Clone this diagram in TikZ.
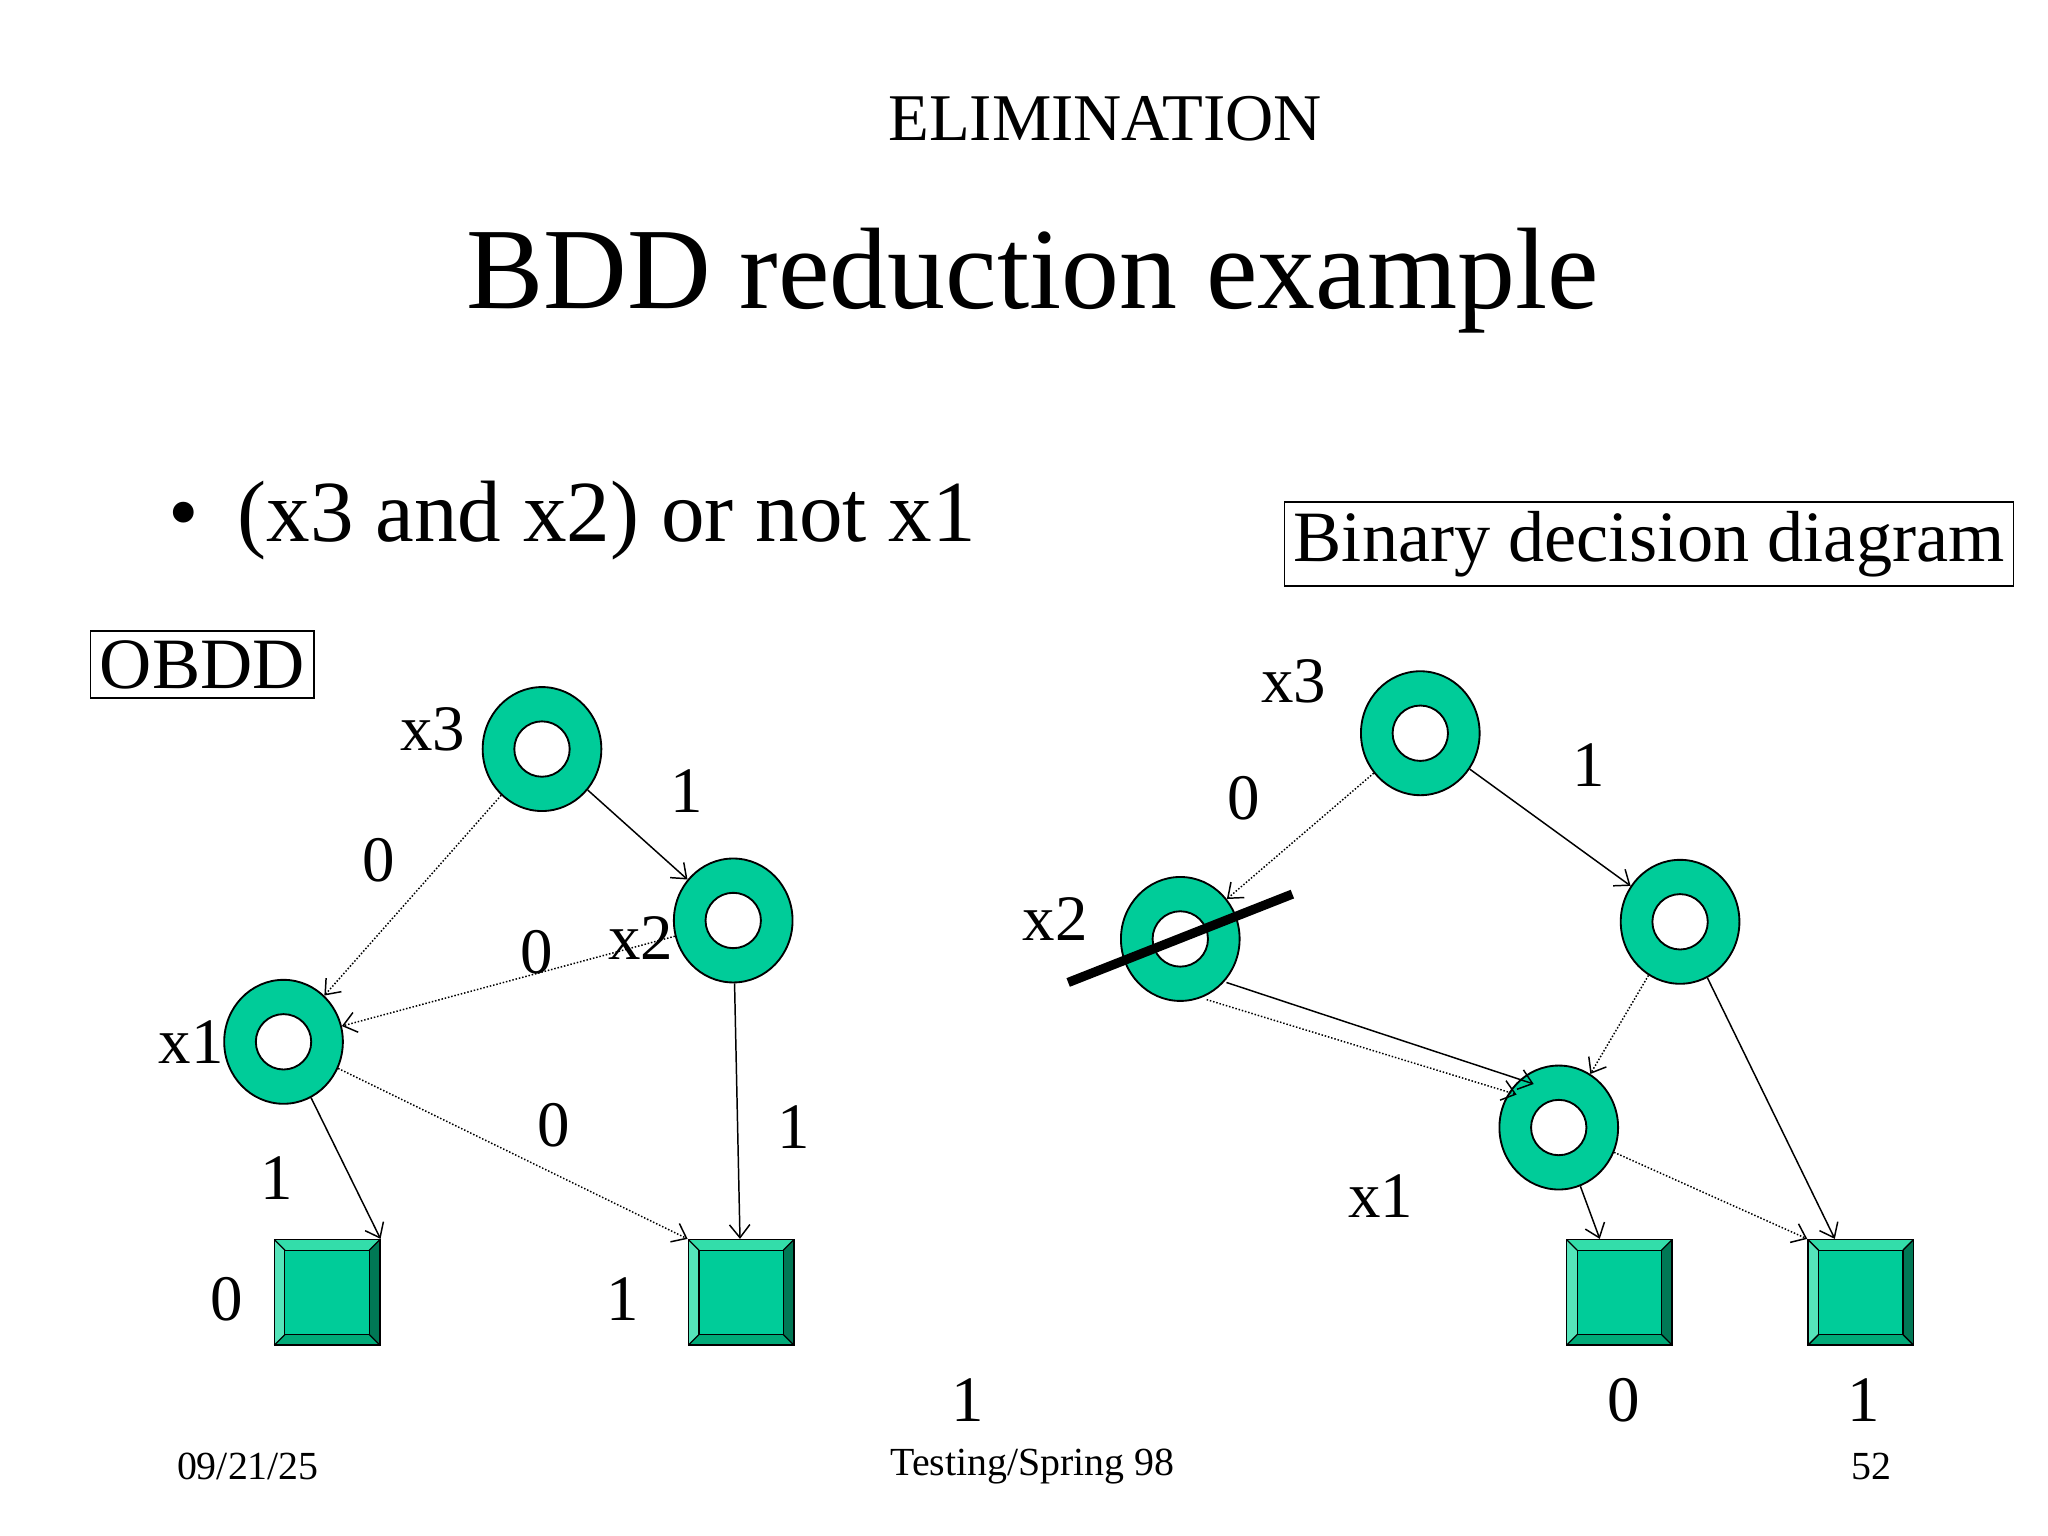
\documentclass[tikz,border=0pt]{standalone}
\usepackage{fontspec}
\setmainfont{Liberation Serif}
\usetikzlibrary{arrows.meta,shapes.geometric}
\definecolor{ringg}{RGB}{0,204,153}
\definecolor{sqtop}{RGB}{51,221,170}
\definecolor{sqleft}{RGB}{85,228,186}
\definecolor{sqright}{RGB}{0,120,85}
\definecolor{sqbot}{RGB}{0,170,120}
\newcommand{\fs}[1]{\fontsize{#1}{#1}\selectfont}
\newcommand{\termsq}[3]{%
 \begin{scope}[shift={(#1,#2)}]
  \fill[sqtop] (-40,-40)--(40,-40)--(32,-32)--(-32,-32)--cycle;
  \fill[sqleft] (-40,-40)--(-32,-32)--(-32,32)--(-40,40)--cycle;
  \fill[sqright] (40,-40)--(32,-32)--(32,32)--(40,40)--cycle;
  \fill[sqbot] (-40,40)--(-32,32)--(32,32)--(40,40)--cycle;
  \draw[line width=1.4pt,fill=ringg] (-32,-32) rectangle (32,32);
  \draw[line width=1.4pt] (-40,-40)--(-32,-32) (40,-40)--(32,-32) (-40,40)--(-32,32) (40,40)--(32,32);
 \end{scope}
 \node[sqn] (#3) at (#1,#2) {};}
\begin{document}
\begin{tikzpicture}[x=0.05cm,y=-0.05cm,
 ring/.style={ellipse,draw,line width=2pt,fill=ringg,minimum width=4.5cm,minimum height=4.7cm,inner sep=0,
   path picture={\draw[line width=2pt,fill=white] (path picture bounding box.center) circle (1.05cm);}},
 sqn/.style={rectangle,draw,line width=1.6pt,minimum size=4cm,inner sep=0},
 lab/.style={font=\fs{70}},
 sol/.style={line width=1.6pt,-{Straight Barb[length=14pt,width=22pt,line width=1.6pt]}},
 dot/.style={sol,dotted},
 box/.style={draw,line width=1.6pt,inner sep=10pt}]
\useasboundingbox (0,0) rectangle (1553,1164);
\fill[white] (0,0) rectangle (1553,1164);
\node[font=\fs{72}] (elim) at (838,90) {ELIMINATION};
\node[font=\fs{125}] (title) at (783,213) {BDD reduction example};
\node[font=\fs{94},anchor=west] (bul) at (125,395) {\textbullet\hspace{0.45em}(x3 and x2) or not x1};
\node[box,font=\fs{78}] (obdd) at (153.5,504) {OBDD};
\node[box,font=\fs{78}] (bdd) at (1250.5,412.5) {Binary decision diagram};
% left OBDD
\node[ring] (a3) at (411,568) {};
\node[ring] (a2) at (556,698) {};
\node[ring] (a1) at (215,790) {};
\termsq{248}{980}{a0}
\termsq{562}{980}{aone}
\draw[dot] (a3) -- (a1);
\draw[sol] (a3) -- (a2);
\draw[dot] (a2) -- (a1);
\draw[sol] (a2) -- (aone);
\draw[sol] (a1) -- (a0.north east);
\draw[dot] (a1) -- (aone.north west);
\node[lab] at (328,553) {x3};
\node[lab] at (486,711) {x2};
\node[lab] at (145,790) {x1};
\node[lab] at (287,652) {0};
\node[lab] at (521,600) {1};
\node[lab] at (407,722) {0};
\node[lab] at (602,855) {1};
\node[lab] at (210,893) {1};
\node[lab] at (420,853) {0};
\node[lab] at (172,985) {0};
\node[lab] at (472,985) {1};
% right
\node[ring] (b3) at (1077,556) {};
\node[ring] (b2) at (1274,699) {};
\node[ring] (bx) at (895,712) {};
\node[ring] (b1) at (1182,855) {};
\termsq{1228}{980}{b0}
\termsq{1411}{980}{bone}
\coordinate (bxa) at (930,745);
\coordinate (bxb) at (915,758);
\coordinate (b1a) at (1163,822);
\coordinate (b1b) at (1150,830);
\draw[dot] (b3) -- (bx);
\draw[sol] (b3) -- (b2);
\draw[sol] (bxa) -- (b1a);
\draw[dot] (bxb) -- (b1b);
\draw[dot] (b2) -- (b1);
\draw[sol] (b2) -- (bone);
\draw[sol] (b1) -- (b0);
\draw[dot] (b1) -- (bone.north west);
\coordinate (cs) at (810,745);
\coordinate (ce) at (980,678);
\draw[line width=10pt] (cs) -- (ce);
\node[lab] at (981,517) {x3};
\node[lab] at (800,697) {x2};
\node[lab] at (1047,907) {x1};
\node[lab] at (943,605) {0};
\node[lab] at (1205,580) {1};
\node[lab] at (1231,1062) {0};
\node[lab] at (1413,1062) {1};
\node[lab] at (734,1062) {1};
% footer
\node[font=\fs{43}] (f1) at (188,1112) {09/21/25};
\node[font=\fs{43}] (f2) at (783,1112) {Testing/Spring 98};
\node[font=\fs{43}] (f3) at (1419,1112) {52};
\end{tikzpicture}
\end{document}
